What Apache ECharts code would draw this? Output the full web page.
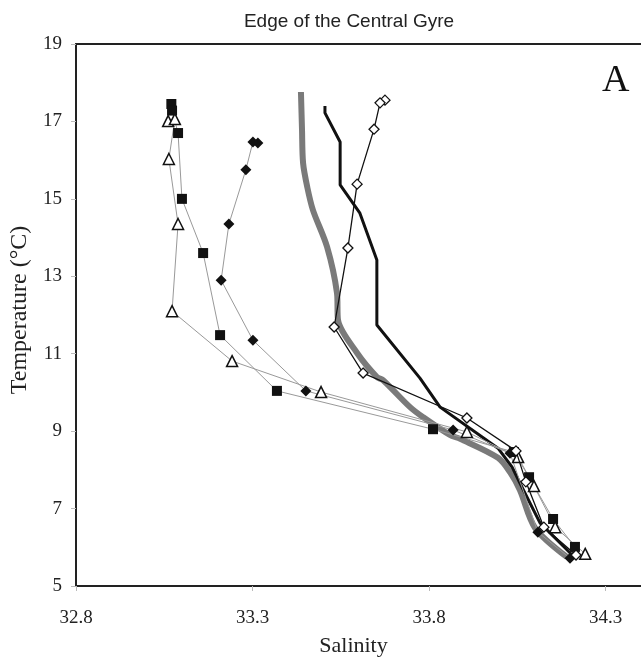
<!DOCTYPE html>
<html>
<head>
<meta charset="utf-8">
<script src="https://cdn.jsdelivr.net/npm/echarts@6/dist/echarts.min.js"></script>
<style>
html,body{margin:0;padding:0;background:#fff;}
#chart{width:641px;height:661px;}
</style>
</head>
<body>
<div id="chart"></div>
<script>
// Filled squares
var sqSal  = [33.070, 33.072, 33.089, 33.100, 33.160, 33.208, 33.369, 33.811, 34.040, 34.083, 34.151, 34.213];
var sqTemp = [17.45, 17.28, 16.70, 15.00, 13.60, 11.48, 10.04, 9.05, 8.46, 7.81, 6.73, 6.01];
// Open triangles
var trSal  = [33.061, 33.080, 33.063, 33.089, 33.072, 33.242, 33.494, 33.907, 34.052, 34.097, 34.157, 34.242];
var trTemp = [17.01, 17.06, 16.03, 14.35, 12.10, 10.81, 10.01, 8.98, 8.33, 7.58, 6.52, 5.83];
// Filled diamonds
var fdSal  = [33.315, 33.301, 33.281, 33.233, 33.211, 33.301, 33.451, 33.868, 34.029, 34.108, 34.199];
var fdTemp = [16.44, 16.47, 15.75, 14.35, 12.90, 11.35, 10.04, 9.03, 8.43, 6.39, 5.72];
// Open diamonds
var odSal  = [33.675, 33.661, 33.644, 33.596, 33.570, 33.531, 33.613, 33.907, 34.046, 34.074, 34.125, 34.216];
var odTemp = [17.55, 17.48, 16.80, 15.38, 13.73, 11.69, 10.50, 9.34, 8.49, 7.69, 6.52, 5.80];
// Thick black profile
var bkSal  = [33.505, 33.505, 33.548, 33.548, 33.604, 33.652, 33.652, 33.774, 33.831, 33.995, 34.035, 34.057, 34.114, 34.205];
var bkTemp = [17.40, 17.22, 16.47, 15.36, 14.63, 13.42, 11.74, 10.37, 9.62, 8.56, 8.07, 7.66, 6.63, 5.80];
// Thick grey profile
var gySal  = [33.437, 33.440, 33.443, 33.455, 33.471, 33.511, 33.539, 33.542, 33.596, 33.652, 33.669, 33.746, 33.783, 33.859, 33.888, 33.995, 34.029, 34.057, 34.100, 34.190];
var gyTemp = [17.76, 16.80, 15.93, 15.30, 14.71, 13.76, 12.57, 11.87, 11.02, 10.40, 10.32, 9.62, 9.36, 8.90, 8.80, 8.31, 7.94, 7.48, 6.50, 5.75];

var xTicks = [32.8, 33.3, 33.8, 34.3];
var yTicks = [5, 7, 9, 11, 13, 15, 17, 19];

function zip(a, b) { return a.map(function (v, i) { return [v, b[i]]; }); }

var serif = '"Liberation Serif", "Times New Roman", serif';
var chart = echarts.init(document.getElementById('chart'));
chart.setOption({
  animation: false,
  backgroundColor: '#fff',
  title: {
    text: 'Edge of the Central Gyre',
    left: 344, top: 7, textAlign: 'center',
    textStyle: { fontFamily: '"Liberation Sans", Arial, sans-serif', fontSize: 19, fontWeight: 'normal', color: '#222' }
  },
  grid: { left: 76, top: 44, right: 0, bottom: 75, containLabel: false, outerBoundsMode: 'none' },
  xAxis: [{
    type: 'value', min: 32.8, max: 34.4, interval: 0.5,
    name: 'Salinity', nameLocation: 'middle', nameGap: 49,
    nameTextStyle: { fontFamily: serif, fontSize: 22, color: '#222', padding: [0, 10, 0, 0] },
    axisLine: { show: true, lineStyle: { color: '#222', width: 2 } },
    axisTick: { show: true, length: 5, lineStyle: { color: '#bbb' } },
    axisLabel: { fontFamily: serif, fontSize: 19, color: '#222', margin: 23, showMaxLabel: false,
      formatter: function (v) { return xTicks.indexOf(+v.toFixed(1)) >= 0 ? v.toFixed(1) : ''; } },
    splitLine: { show: false }
  }, {
    type: 'value', position: 'top', min: 32.8, max: 34.4,
    axisLine: { show: true, lineStyle: { color: '#222', width: 2 } },
    axisTick: { show: false }, axisLabel: { show: false }, splitLine: { show: false }
  }],
  yAxis: {
    type: 'value', min: 5, max: 19, interval: 2,
    name: 'Temperature (°C)', nameLocation: 'middle', nameGap: 42,
    nameTextStyle: { fontFamily: serif, fontSize: 24, color: '#222', padding: [0, 0, 0, 10] },
    axisLine: { show: true, lineStyle: { color: '#222', width: 2 } },
    axisTick: { show: true, length: 5, lineStyle: { color: '#bbb' } },
    axisLabel: { fontFamily: serif, fontSize: 19, color: '#222', margin: 14,
      formatter: function (v) { return yTicks.indexOf(v) >= 0 ? String(v) : ''; } },
    splitLine: { show: false }
  },
  graphic: [{
    type: 'text', left: 602, top: 62,
    style: { text: 'A', font: '38px ' + serif, fill: '#111' }
  }],
  series: [
    { type: 'line', data: zip(gySal, gyTemp), showSymbol: false, smooth: 0.3, z: 1,
      lineStyle: { color: '#7a7a7a', width: 6 } },
    { type: 'line', data: zip(bkSal, bkTemp), showSymbol: false, z: 2,
      lineStyle: { color: '#111', width: 3 } },
    { type: 'line', data: zip(sqSal, sqTemp), symbol: 'rect', symbolSize: 10, z: 3,
      lineStyle: { color: '#999', width: 1 }, itemStyle: { color: '#111' } },
    { type: 'line', data: zip(trSal, trTemp), symbol: 'triangle', symbolSize: 11, z: 3,
      lineStyle: { color: '#999', width: 1 }, itemStyle: { color: '#fff', borderColor: '#111', borderWidth: 1.5 } },
    { type: 'line', data: zip(fdSal, fdTemp), symbol: 'diamond', symbolSize: 11, z: 3,
      lineStyle: { color: '#999', width: 1 }, itemStyle: { color: '#111' } },
    { type: 'line', data: zip(odSal, odTemp), symbol: 'diamond', symbolSize: 10, z: 4,
      lineStyle: { color: '#111', width: 1.3 }, itemStyle: { color: '#fff', borderColor: '#111', borderWidth: 1.3 } }
  ]
});
</script>
</body>
</html>
